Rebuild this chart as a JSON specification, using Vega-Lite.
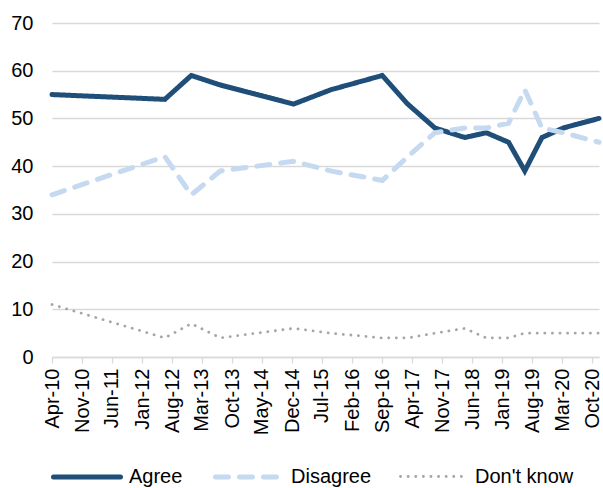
{
  "$schema": "https://vega.github.io/schema/vega-lite/v6.json",
  "width": 547,
  "height": 334,
  "autosize": {"type": "none"},
  "padding": {"left": 52, "top": 23, "right": 4, "bottom": 131},
  "background": "white",
  "config": {"view": {"stroke": null}, "font": "Liberation Sans"},
  "data": {
    "values": [
      {"date": "2010-04-01T00:00:00", "series": "Agree", "value": 55},
      {"date": "2012-06-10T00:00:00", "series": "Agree", "value": 54},
      {"date": "2012-12-15T00:00:00", "series": "Agree", "value": 59},
      {"date": "2013-07-10T00:00:00", "series": "Agree", "value": 57},
      {"date": "2014-12-10T00:00:00", "series": "Agree", "value": 53},
      {"date": "2015-09-01T00:00:00", "series": "Agree", "value": 56},
      {"date": "2016-09-01T00:00:00", "series": "Agree", "value": 59},
      {"date": "2017-03-01T00:00:00", "series": "Agree", "value": 53},
      {"date": "2017-09-10T00:00:00", "series": "Agree", "value": 48},
      {"date": "2018-04-10T00:00:00", "series": "Agree", "value": 46},
      {"date": "2018-09-10T00:00:00", "series": "Agree", "value": 47},
      {"date": "2019-02-15T00:00:00", "series": "Agree", "value": 45},
      {"date": "2019-06-10T00:00:00", "series": "Agree", "value": 39},
      {"date": "2019-10-10T00:00:00", "series": "Agree", "value": 46},
      {"date": "2020-03-10T00:00:00", "series": "Agree", "value": 48},
      {"date": "2020-11-18T00:00:00", "series": "Agree", "value": 50},
      {"date": "2010-04-01T00:00:00", "series": "Disagree", "value": 34},
      {"date": "2012-06-10T00:00:00", "series": "Disagree", "value": 42},
      {"date": "2012-12-15T00:00:00", "series": "Disagree", "value": 34},
      {"date": "2013-07-10T00:00:00", "series": "Disagree", "value": 39},
      {"date": "2014-12-10T00:00:00", "series": "Disagree", "value": 41},
      {"date": "2015-09-01T00:00:00", "series": "Disagree", "value": 39},
      {"date": "2016-09-01T00:00:00", "series": "Disagree", "value": 37},
      {"date": "2017-03-01T00:00:00", "series": "Disagree", "value": 42},
      {"date": "2017-09-10T00:00:00", "series": "Disagree", "value": 47},
      {"date": "2018-04-10T00:00:00", "series": "Disagree", "value": 48},
      {"date": "2018-09-10T00:00:00", "series": "Disagree", "value": 48},
      {"date": "2019-02-15T00:00:00", "series": "Disagree", "value": 49},
      {"date": "2019-06-10T00:00:00", "series": "Disagree", "value": 56},
      {"date": "2019-10-10T00:00:00", "series": "Disagree", "value": 48},
      {"date": "2020-03-10T00:00:00", "series": "Disagree", "value": 47},
      {"date": "2020-11-18T00:00:00", "series": "Disagree", "value": 45},
      {"date": "2010-04-01T00:00:00", "series": "Don't know", "value": 11},
      {"date": "2012-06-10T00:00:00", "series": "Don't know", "value": 4},
      {"date": "2012-12-15T00:00:00", "series": "Don't know", "value": 7},
      {"date": "2013-07-10T00:00:00", "series": "Don't know", "value": 4},
      {"date": "2014-12-10T00:00:00", "series": "Don't know", "value": 6},
      {"date": "2015-09-01T00:00:00", "series": "Don't know", "value": 5},
      {"date": "2016-09-01T00:00:00", "series": "Don't know", "value": 4},
      {"date": "2017-03-01T00:00:00", "series": "Don't know", "value": 4},
      {"date": "2017-09-10T00:00:00", "series": "Don't know", "value": 5},
      {"date": "2018-04-10T00:00:00", "series": "Don't know", "value": 6},
      {"date": "2018-09-10T00:00:00", "series": "Don't know", "value": 4},
      {"date": "2019-02-15T00:00:00", "series": "Don't know", "value": 4},
      {"date": "2019-06-10T00:00:00", "series": "Don't know", "value": 5},
      {"date": "2019-10-10T00:00:00", "series": "Don't know", "value": 5},
      {"date": "2020-03-10T00:00:00", "series": "Don't know", "value": 5},
      {"date": "2020-11-18T00:00:00", "series": "Don't know", "value": 5}
    ]
  },
  "mark": {"type": "line", "strokeCap": "round"},
  "encoding": {
    "x": {
      "field": "date",
      "type": "temporal",
      "scale": {"domain": [{"year": 2010, "month": 4, "date": 1}, {"year": 2020, "month": 11, "date": 18}]},
      "axis": {
        "title": null,
        "grid": false,
        "format": "%b-%y",
        "labelAngle": -90,
        "labelFontSize": 20,
        "labelColor": "black",
        "labelFont": "Liberation Sans",
        "labelPadding": 5,
        "domainColor": "#D9D9D9",
        "domainWidth": 1.3,
        "tickColor": "#D9D9D9",
        "tickWidth": 1.3,
        "tickSize": 6,
        "labelOverlap": false,
        "values": [
          {"year": 2010, "month": 4, "date": 1},
          {"year": 2010, "month": 11, "date": 1},
          {"year": 2011, "month": 6, "date": 1},
          {"year": 2012, "month": 1, "date": 1},
          {"year": 2012, "month": 8, "date": 1},
          {"year": 2013, "month": 3, "date": 1},
          {"year": 2013, "month": 10, "date": 1},
          {"year": 2014, "month": 5, "date": 1},
          {"year": 2014, "month": 12, "date": 1},
          {"year": 2015, "month": 7, "date": 1},
          {"year": 2016, "month": 2, "date": 1},
          {"year": 2016, "month": 9, "date": 1},
          {"year": 2017, "month": 4, "date": 1},
          {"year": 2017, "month": 11, "date": 1},
          {"year": 2018, "month": 6, "date": 1},
          {"year": 2019, "month": 1, "date": 1},
          {"year": 2019, "month": 8, "date": 1},
          {"year": 2020, "month": 3, "date": 1},
          {"year": 2020, "month": 10, "date": 1}
        ]
      }
    },
    "y": {
      "field": "value",
      "type": "quantitative",
      "scale": {"domain": [0, 70]},
      "axis": {
        "title": null,
        "values": [0, 10, 20, 30, 40, 50, 60, 70],
        "domain": false,
        "ticks": false,
        "tickSize": 0,
        "labelPadding": 19,
        "labelFontSize": 20,
        "labelColor": "black",
        "labelFont": "Liberation Sans",
        "gridColor": "#D9D9D9",
        "gridWidth": 1.3
      }
    },
    "color": {
      "field": "series",
      "type": "nominal",
      "scale": {"domain": ["Agree", "Disagree", "Don't know"], "range": ["#1F4E79", "#C5D9F1", "#A6A6A6"]},
      "legend": {
        "orient": "none",
        "direction": "horizontal",
        "legendX": -1,
        "legendY": 418,
        "title": null,
        "padding": 0,
        "symbolType": "stroke",
        "symbolSize": 4489,
        "labelFontSize": 20,
        "labelColor": "black",
        "labelFont": "Liberation Sans",
        "labelOffset": 6,
        "columnPadding": 22,
        "encode": {"symbols": {"update": {"strokeCap": {"value": "round"}}}}
      }
    },
    "strokeDash": {
      "field": "series",
      "type": "nominal",
      "scale": {"domain": ["Agree", "Disagree", "Don't know"], "range": [[1, 0], [13, 11], [0.1, 7.5]]}
    },
    "strokeWidth": {
      "field": "series",
      "type": "nominal",
      "scale": {"type": "ordinal", "domain": ["Agree", "Disagree", "Don't know"], "range": [5, 5, 2.8]}
    }
  }
}
